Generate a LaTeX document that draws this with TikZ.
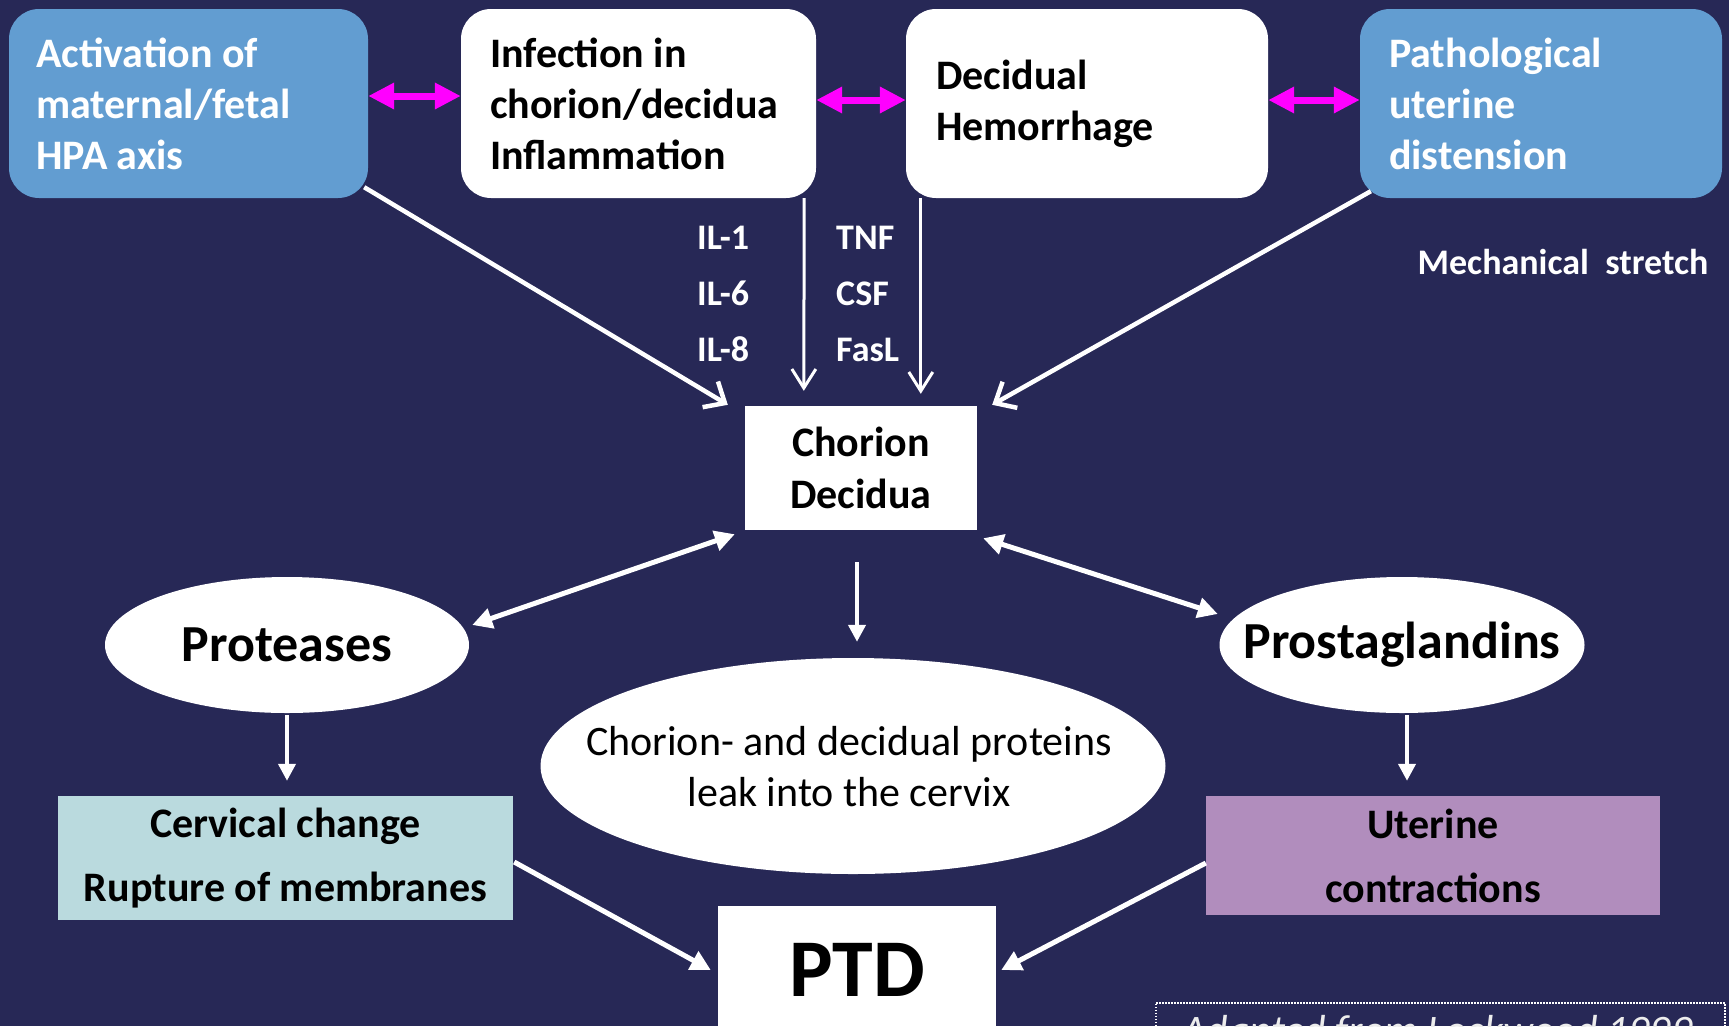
\documentclass[tikz,border=0pt]{standalone}
\usepackage{fontspec}
\setmainfont{Carlito}
\usetikzlibrary{arrows.meta,shapes.geometric}
\definecolor{bg}{RGB}{39,40,86}
\definecolor{steel}{RGB}{98,157,209}
\definecolor{cervc}{RGB}{186,218,222}
\definecolor{mauve}{RGB}{177,141,189}
\definecolor{mag}{RGB}{255,0,255}
\begin{document}
\begin{tikzpicture}[x=1pt,y=-1pt,
  topbox/.style={rectangle, rounded corners=30pt, minimum height=189pt, inner ysep=0pt, align=flush left, font=\fontsize{42}{51}\selectfont\bfseries},
  bluebox/.style={topbox, fill=steel, text=white},
  whitebox/.style={topbox, fill=white, text=black},
  oval/.style={ellipse, fill=white, inner sep=0pt},
  ovaltext/.style={text=black, inner sep=0pt, align=center},
  lbl/.style={text=white, align=flush left, inner sep=0pt, font=\fontsize{36}{56}\selectfont\bfseries},
  magarrow/.style={draw=mag, line width=7pt, {Triangle[length=26pt,width=25pt]}-{Triangle[length=26pt,width=25pt]}},
  topdiag/.style={draw=white, line width=4.5pt, -{Straight Barb[length=17pt,width=30pt]}},
  topvert/.style={draw=white, line width=3pt, -{Straight Barb[length=19pt,width=24pt]}},
  dblarrow/.style={draw=white, line width=5pt, {Triangle[length=20pt,width=20pt]}-{Triangle[length=20pt,width=20pt]}},
  downarrow/.style={draw=white, line width=4pt, -{Triangle[length=17pt,width=17pt]}},
  ptdarrow/.style={draw=white, line width=5pt, -{Triangle[length=20pt,width=20pt]}}
]
\fill[bg] (0,0) rectangle (1729,1026);
\useasboundingbox (0,0) rectangle (1729,1026);

% top row
\node[bluebox, text width=305pt, inner xsep=27pt] (b1) at (188.5,103.5) {Activation of\\maternal/fetal\\HPA axis};
\node[whitebox, text width=297pt, inner xsep=29pt] (b2) at (638.5,103.5) {Infection in\\chorion/decidua\\Inflammation};
\node[whitebox, text width=302pt, inner xsep=30pt] (b3) at (1087,103.5) {Decidual\\Hemorrhage};
\node[bluebox, text width=304pt, inner xsep=29pt] (b4) at (1541,103.5) {Pathological\\uterine\\distension};

\draw[magarrow] ([yshift=7.5pt]b1.east) -- ([yshift=7.5pt]b2.west);
\draw[magarrow] ([yshift=3.5pt]b2.east) -- ([yshift=3.5pt]b3.west);
\draw[magarrow] ([yshift=3.5pt]b3.east) -- ([yshift=3.5pt]b4.west);

% labels
\node[lbl, anchor=west] (il) at (697,294) {IL-1\\IL-6\\IL-8};
\node[lbl, anchor=west] (tnf) at (836,294) {TNF\\CSF\\FasL};
\node[lbl] (mech) at (1563,262) {Mechanical~~stretch};

% centre
\node[rectangle, fill=white, minimum width=232pt, minimum height=124pt, inner sep=0pt, align=center, font=\fontsize{42}{52}\selectfont\bfseries] (cd) at (861,468) {Chorion\\Decidua};

\draw[topdiag] ([xshift=-4pt,yshift=11pt]b1.south east) -- ([xshift=-17pt,yshift=1pt]cd.north west);
\draw[topvert] ([xshift=-12pt]b2.south east) -- ([xshift=59pt,yshift=15pt]cd.north west);
\draw[topvert] ([xshift=15pt]b3.south west) -- ([xshift=176pt,yshift=12pt]cd.north west);
\draw[topdiag] ([xshift=11pt,yshift=7pt]b4.south west) -- ([xshift=15pt,yshift=1pt]cd.north east);

% ellipses
\node[oval, minimum width=364pt, minimum height=136pt] (prot) at (287,645) {};
\node[ovaltext, font=\fontsize{52}{60}\selectfont\bfseries] (prott) at (prot.center) {Proteases};
\node[oval, minimum width=365pt, minimum height=136pt] (prg) at (1402,645) {};
\node[ovaltext, font=\fontsize{52}{60}\selectfont\bfseries] (prgt) at (prg.center) {Prostaglandins};
\node[oval, minimum width=625pt, minimum height=216pt] (big) at (853,766) {};
\node[ovaltext, font=\fontsize{42}{51}\selectfont] (bigt) at (849,767) {Chorion- and decidual proteins\\leak into the cervix};

\draw[dblarrow] ([xshift=-10pt,yshift=-4pt]cd.south west) -- ([xshift=3pt,yshift=20pt]prot.east);
\draw[dblarrow] ([xshift=6pt,yshift=-8pt]cd.south east) -- ([xshift=-1.5pt,yshift=31pt]prg.west);
\draw[downarrow] ([xshift=-4pt,yshift=-32pt]cd.south) -- ([xshift=4pt,yshift=16pt]big.north);

% lower boxes
\node[rectangle, fill=cervc, minimum width=455pt, minimum height=124pt, inner sep=0pt, align=center, font=\fontsize{42}{64}\selectfont\bfseries] (cerv) at (285.5,858) {Cervical change\\Rupture of membranes};
\node[rectangle, fill=mauve, minimum width=454pt, minimum height=119pt, inner sep=0pt, align=center, font=\fontsize{42}{64}\selectfont\bfseries] (uter) at (1433,855.5) {Uterine\\contractions};

\draw[downarrow, shorten <=2pt, shorten >=15pt] (prot.south) -- (prot.south |- cerv.north);
\draw[downarrow, shorten <=2pt, shorten >=15pt] ([xshift=5pt]prg.south) -- ([xshift=5pt]prg.south |- uter.north);

\node[rectangle, fill=white, minimum width=278pt, minimum height=128pt, inner sep=0pt, font=\fontsize{82}{90}\selectfont\bfseries] (ptd) at (857,970) {PTD};

\draw[ptdarrow] ([xshift=1pt,yshift=-4pt]cerv.east) -- ([xshift=-7pt]ptd.west);
\draw[ptdarrow] ([yshift=-7.5pt]uter.west) -- ([xshift=5pt]ptd.east);

% source
\node[rectangle, draw=white, line width=1.5pt, dash pattern=on 1.5pt off 1.5pt, anchor=north west, minimum width=569pt, minimum height=70pt, inner sep=0pt] (src) at (1155,1002) {};
\node[anchor=base west, inner sep=0pt, text=white!85!gray, font=\fontsize{42}{50}\selectfont\itshape] (srct) at (1182,1044) {Adapted from Lockwood 1999};
\end{tikzpicture}
\end{document}
